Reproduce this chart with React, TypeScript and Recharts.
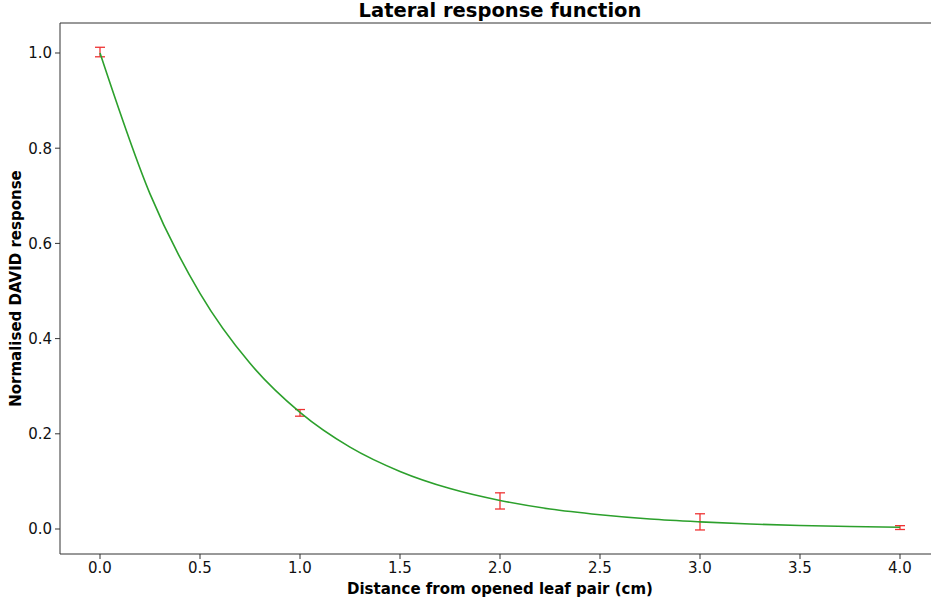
import React from 'react';
import { ComposedChart, Line, Scatter, ErrorBar, XAxis, YAxis, ReferenceLine, Label } from 'recharts';

// fitted curve
const curveX = [0, 0.25, 0.5, 0.75, 1.0, 1.25, 1.5, 1.75, 2.0, 2.25, 2.5, 2.75, 3.0, 3.25, 3.5, 3.75, 4.0];
const curveY = [1.0, 0.704, 0.495, 0.348, 0.245, 0.172, 0.121, 0.085, 0.06, 0.042, 0.03, 0.021, 0.015, 0.0104, 0.0073, 0.0052, 0.0036];

// measured points with errors
const pointX = [0, 1, 2, 3, 4];
const pointY = [1.002, 0.244, 0.059, 0.015, 0.003];
const pointErr = [0.01, 0.007, 0.017, 0.017, 0.004];

const xTicks = [0, 0.5, 1, 1.5, 2, 2.5, 3, 3.5, 4];
const yTicks = [0, 0.2, 0.4, 0.6, 0.8, 1.0];

const curve = curveX.map((x, i) => ({ x, y: curveY[i] }));
const points = pointX.map((x, i) => ({ x, y: pointY[i], err: pointErr[i] }));

const FONT = '"DejaVu Sans", sans-serif';
const fmt = (v: number) => v.toFixed(1);

export default function App() {
    return (
        <div style={{ position: 'absolute', left: 0, top: 0, width: 931, height: 601, fontFamily: FONT, background: '#fff' }}>
            <div
                style={{
                    position: 'absolute',
                    left: 0,
                    width: 1000,
                    top: 0,
                    textAlign: 'center',
                    fontWeight: 'bold',
                    fontSize: 19.5,
                    lineHeight: '22px',
                    color: '#000',
                }}
            >
                Lateral response function
            </div>
            <ComposedChart width={931} height={601} margin={{ top: 23, right: 0, bottom: 0, left: 0 }}>
                <XAxis
                    dataKey="x"
                    type="number"
                    domain={[-0.2, 4.155]}
                    ticks={xTicks}
                    tickFormatter={fmt}
                    allowDataOverflow
                    height={47}
                    stroke="#333"
                    tickSize={5}
                    tickMargin={3}
                    tick={{ fill: '#111', fontSize: 15, fontFamily: FONT }}
                >
                    <Label
                        value="Distance from opened leaf pair (cm)"
                        position="insideBottom"
                        offset={7}
                        dx={4.5}
                        style={{ fontWeight: 'bold', fontSize: 15, fill: '#000', fontFamily: FONT }}
                    />
                </XAxis>
                <YAxis
                    type="number"
                    domain={[-0.0525, 1.063]}
                    ticks={yTicks}
                    tickFormatter={fmt}
                    allowDataOverflow
                    width={60}
                    stroke="#333"
                    tickSize={5}
                    tickMargin={3}
                    tick={{ fill: '#111', fontSize: 15, fontFamily: FONT }}
                >
                    <Label
                        value="Normalised DAVID response"
                        angle={-90}
                        position="insideLeft"
                        offset={16}
                        style={{ textAnchor: 'middle', fontWeight: 'bold', fontSize: 15, fill: '#000', fontFamily: FONT }}
                    />
                </YAxis>
                <ReferenceLine y={1.063} stroke="#333" ifOverflow="visible" />
                <Scatter data={points} dataKey="y" shape={() => <g />} isAnimationActive={false}>
                    <ErrorBar dataKey="err" direction="y" width={5} stroke="#ee3333" strokeWidth={1.3} isAnimationActive={false} />
                </Scatter>
                <Line
                    data={curve}
                    dataKey="y"
                    type="monotone"
                    stroke="#2ca02c"
                    strokeWidth={1.6}
                    dot={false}
                    activeDot={false}
                    isAnimationActive={false}
                />
            </ComposedChart>
        </div>
    );
}
